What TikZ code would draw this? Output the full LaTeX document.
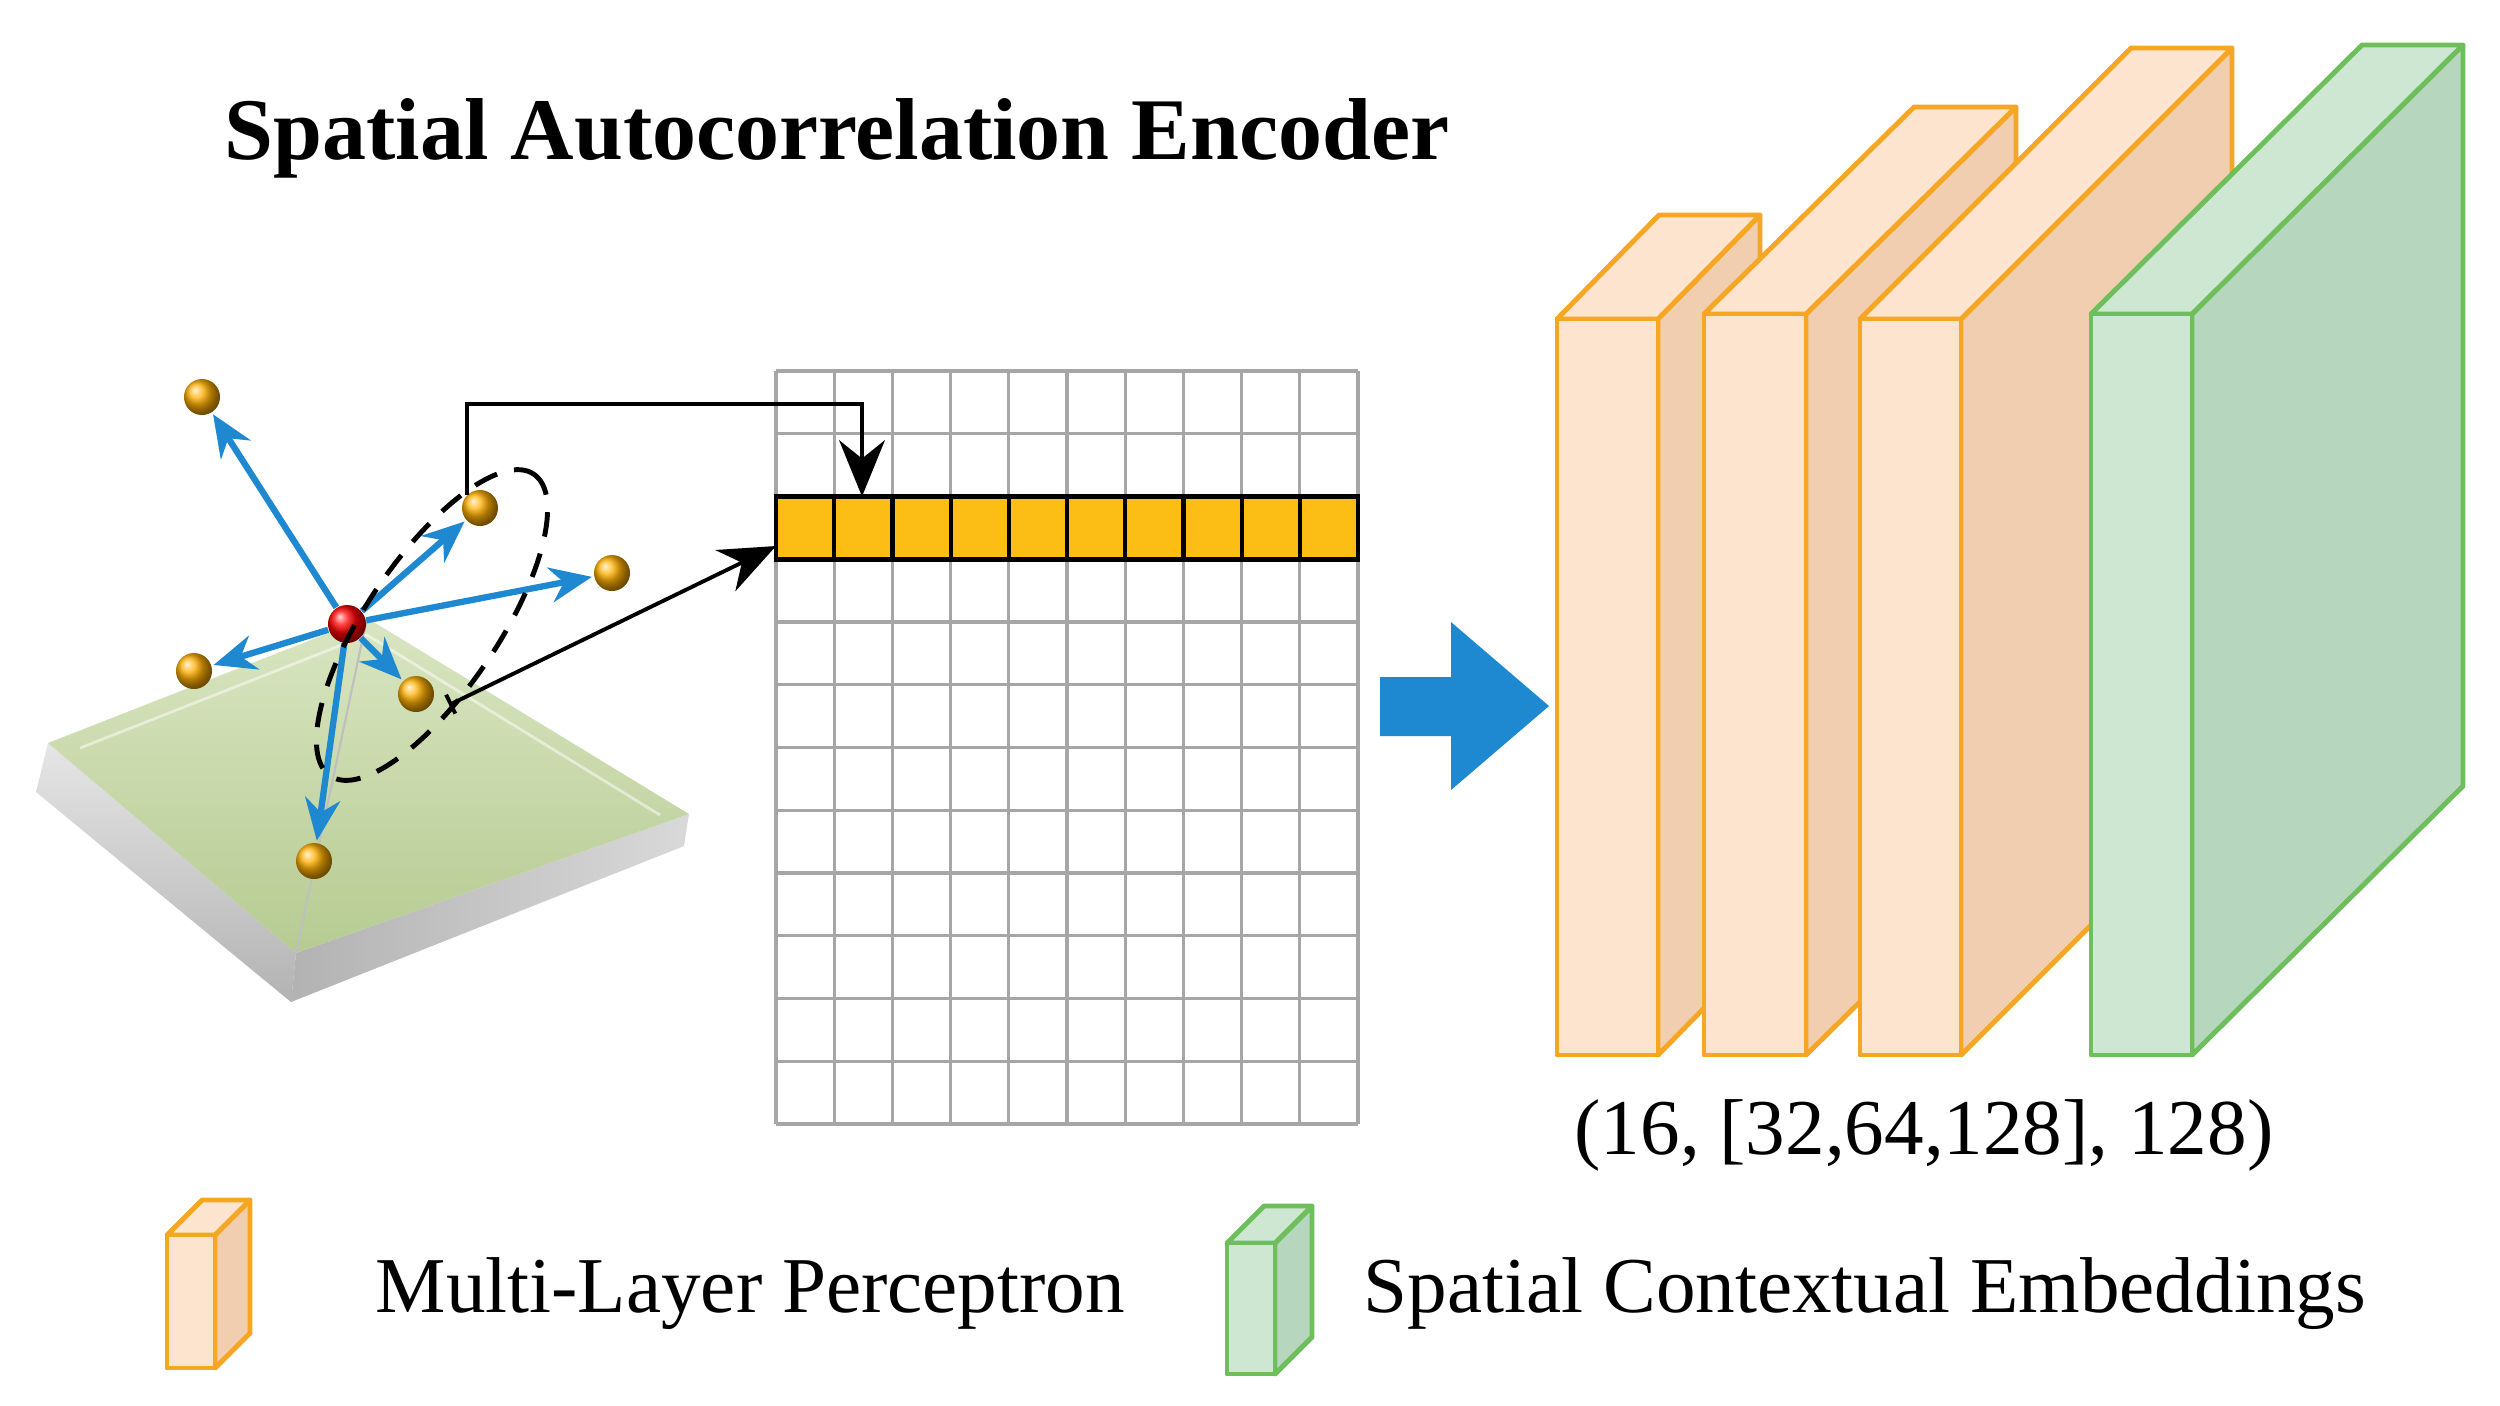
\documentclass[tikz,border=0pt]{standalone}
\usepackage{fontspec}
\setmainfont{Liberation Serif}
\usetikzlibrary{arrows.meta,positioning}

\definecolor{mlpfront}{RGB}{253,228,206}
\definecolor{mlpside}{RGB}{242,206,176}
\definecolor{mlpedge}{RGB}{245,166,35}
\definecolor{embfront}{RGB}{206,231,210}
\definecolor{embside}{RGB}{182,214,190}
\definecolor{embedge}{RGB}{110,190,92}
\definecolor{vecblue}{RGB}{30,136,208}
\definecolor{rowfill}{RGB}{252,190,20}
\definecolor{platetop}{RGB}{178,200,140}
\definecolor{platelight}{RGB}{215,228,190}

\tikzset{
  slab/.style={line width=1.4pt, line join=round},
  vec/.style={vecblue, line width=1.8pt, -{Stealth[length=12pt,width=10pt]}, shorten >=0.5pt},
  link/.style={black, line width=1.1pt},
  ball/.style={circle, minimum size=0.36cm, inner sep=0pt, shading=ball, ball color={rgb,255:red,255;green,175;blue,0}},
  label/.style={font=\fontsize{22.5}{27}\selectfont, inner sep=0pt}
}

% front box x1,x2,y1,y2, depth dx,dy, colour prefix
\newcommand{\slab}[7]{%
  \draw[slab, draw=#7edge, fill=#7side] (#2,#3) -- ++(#5,#6) -- ++(0,#4-#3) -- (#2,#4) -- cycle;
  \draw[slab, draw=#7edge, fill=#7front] (#1,#3) -- ++(#5,#6) -- ++(#2-#1,0) -- (#2,#3) -- cycle;
  \draw[slab, draw=#7edge, fill=#7front] (#1,#3) rectangle (#2,#4);
}

\begin{document}
\begin{tikzpicture}[x=0.01cm, y=-0.01cm]
\useasboundingbox (0,0) rectangle (2500,1405);

% title
\node[font=\fontsize{25}{30}\selectfont\bfseries] (title) at (837,138) {Spatial Autocorrelation Encoder};

% plate
\shade[top color=gray!20, bottom color=gray!60] (36,792) -- (48,743) -- (296,953) -- (291,1002) -- cycle;
\shade[left color=gray!60, right color=gray!30] (291,1002) -- (296,953) -- (689,814) -- (684,846) -- cycle;
\shade[top color=platelight, bottom color=platetop, opacity=0.95] (48,743) -- (367,618) -- (689,814) -- (296,953) -- cycle;
\draw[white, opacity=0.5, line width=0.8pt] (80,748) -- (367,635) -- (660,815);
\draw[gray!50, line width=0.6pt] (367,618) -- (296,953);

% points
\node[circle, minimum size=0.38cm, inner sep=0pt, shading=ball, ball color=red] (c) at (347,624) {};
\node[ball] (p1) at (202,397) {};
\node[ball] (p2) at (480,508) {};
\node[ball] (p3) at (612,573) {};
\node[ball] (p4) at (194,671) {};
\node[ball] (p5) at (416,694) {};
\node[ball] (p6) at (314,861) {};
\foreach \p in {p1,p2,p3,p4,p5,p6}
  \draw[vec] (c) -- (\p);

% neighbourhood
\draw[dash pattern=on 7pt off 5pt, line width=1.4pt, rotate around={56:(432,625)}] (432,625) ellipse [x radius=182, y radius=66];

% grid
\foreach \i in {0,...,10}
  \draw[gray!70, line width=0.9pt] (776+58.2*\i,371) -- (776+58.2*\i,1124);
\foreach \j in {0,...,12}
  \draw[gray!70, line width=0.9pt] (776,371+62.75*\j) -- (1358,371+62.75*\j);
\draw[line width=1.4pt, fill=rowfill] (776,496.5) rectangle (1358,559.25);
\foreach \i in {1,...,9}
  \draw[line width=1.2pt] (776+58.2*\i,496.5) -- (776+58.2*\i,559.25);
\coordinate (rowtop) at (862,496.5);
\coordinate (rowleft) at (776,546);
\coordinate (p5r) at (449,705);

% links to the row
\draw[link, -{Stealth[length=16pt,width=13pt]}] (p2.north west) |- (862,404) -- (rowtop);
\draw[link, {Bar[width=6pt]}-{Stealth[length=16pt,width=13pt]}] (p5r) -- (rowleft);

% big arrow
\fill[vecblue] (1380,677) -- (1451,677) -- (1451,622) -- (1549,706) -- (1451,790) -- (1451,736) -- (1380,736) -- cycle;

% layers
\slab{1557}{1658}{319}{1055}{102}{-104}{mlp}
\slab{1704}{1806}{314}{1055}{210}{-207}{mlp}
\slab{1860}{1961}{319}{1055}{271}{-271}{mlp}
\slab{2091}{2192}{314}{1055}{271}{-269}{emb}
\node[label] (dims) at (1924,1135) {(16, [32,64,128], 128)};

% legend
\slab{167}{215}{1235}{1368}{35}{-35}{mlp}
\node[label, anchor=west] (mlp) at (375,1294) {Multi-Layer Perceptron};
\slab{1227}{1275}{1243}{1374}{37}{-37}{emb}
\node[label, anchor=west] (emb) at (1363,1294) {Spatial Contextual Embeddings};
\end{tikzpicture}
\end{document}
